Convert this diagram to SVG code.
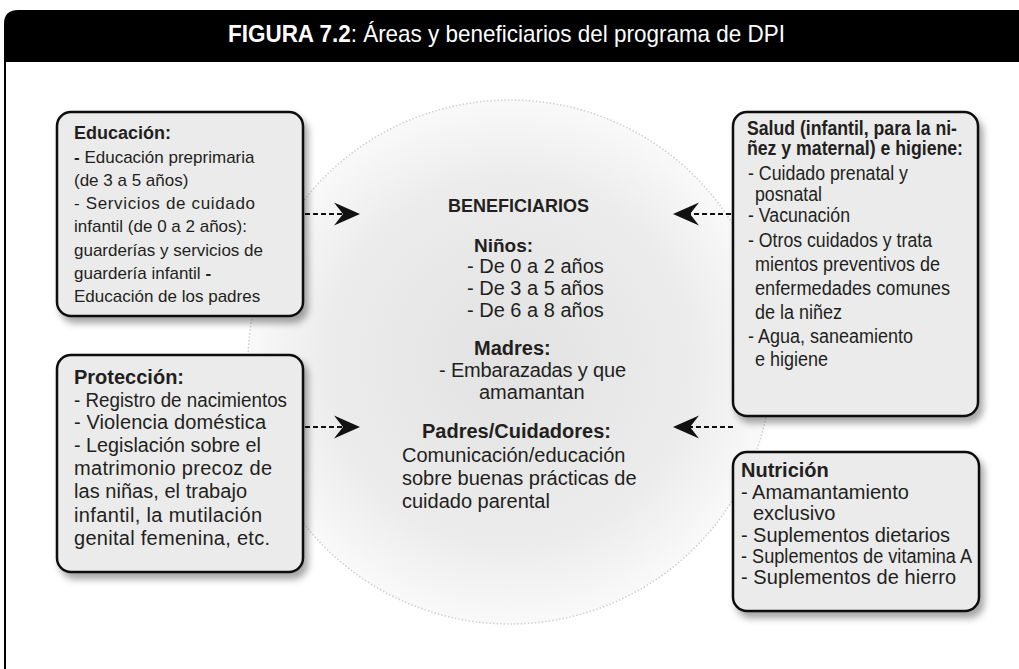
<svg xmlns="http://www.w3.org/2000/svg" width="1019" height="669" viewBox="0 0 1019 669">
<defs>
<style>
.t{font-family:"Liberation Sans",Arial,sans-serif;fill:#231f20}
.b{font-weight:bold}
.box{fill:#ebebeb;stroke:#111;stroke-width:2.5;filter:url(#sh)}
.dash{stroke:#111;stroke-width:2.2;stroke-dasharray:5 3;fill:none}
</style>
<filter id="sh" x="-10%" y="-10%" width="130%" height="130%">
<feDropShadow dx="4" dy="6" stdDeviation="3.5" flood-color="#000" flood-opacity="0.35"/>
</filter>
<radialGradient id="cg" cx="0.5" cy="0.5" r="0.5">
<stop offset="0" stop-color="#e2e2e2"/>
<stop offset="0.7" stop-color="#ececec"/>
<stop offset="1" stop-color="#f9f9f9"/>
</radialGradient>
<marker id="ah" markerUnits="userSpaceOnUse" markerWidth="30" markerHeight="30" viewBox="-12 -13 30 26" refX="0" refY="0" orient="auto">
<path d="M16,0 L-10,-11.5 L-1,0 L-10,11.5 Z" fill="#111"/>
</marker>
</defs>
<rect width="1019" height="669" fill="#fff"/>
<path d="M4,62 V24 Q4,10 18,10 H1019 V62 Z" fill="#000"/>
<line x1="5" y1="62" x2="5" y2="669" stroke="#000" stroke-width="2"/>
<text class="t" x="228" y="42" font-size="24" fill="#fff" style="fill:#fff" textLength="557" lengthAdjust="spacingAndGlyphs"><tspan class="b">FIGURA 7.2</tspan>: Áreas y beneficiarios del programa de DPI</text>

<g id="circle">
<circle cx="510" cy="362" r="262" fill="url(#cg)" stroke="#cfcfcf" stroke-width="1.5" stroke-dasharray="1.5 2"/>
</g>

<g id="connectors">
<line class="dash" x1="305" y1="214" x2="344" y2="214" marker-end="url(#ah)"/>
<line class="dash" x1="305" y1="427" x2="344" y2="427" marker-end="url(#ah)"/>
<line class="dash" x1="731" y1="214" x2="689" y2="214" marker-end="url(#ah)"/>
<line class="dash" x1="733" y1="427" x2="689" y2="427" marker-end="url(#ah)"/>
</g>

<g id="center">
<text class="t b" x="448" y="212" font-size="18" textLength="141" lengthAdjust="spacingAndGlyphs">BENEFICIARIOS</text>
<text class="t b" x="474" y="252" font-size="19">Niños:</text>
<text class="t" x="467" y="273" font-size="20">- De 0 a 2 años</text>
<text class="t" x="467" y="295" font-size="20">- De 3 a 5 años</text>
<text class="t" x="467" y="317" font-size="20">- De 6 a 8 años</text>
<text class="t b" x="474" y="355" font-size="20">Madres:</text>
<text class="t" x="439" y="377" font-size="20" textLength="187">- Embarazadas y que</text>
<text class="t" x="479" y="399" font-size="20">amamantan</text>
<text class="t b" x="422" y="438" font-size="20">Padres/Cuidadores:</text>
<text class="t" x="402" y="462" font-size="20">Comunicación/educación</text>
<text class="t" x="402" y="485" font-size="20">sobre buenas prácticas de</text>
<text class="t" x="402" y="508" font-size="20">cuidado parental</text>
</g>

<g id="educacion">
<rect class="box" x="57" y="112" width="246" height="204" rx="14"/>
<text class="t b" x="74" y="139" font-size="18">Educación:</text>
<text class="t" x="74" y="163" font-size="17"><tspan class="b">-</tspan> Educación preprimaria</text>
<text class="t" x="74" y="186" font-size="17">(de 3 a 5 años)</text>
<text class="t" x="74" y="209" font-size="17" textLength="181">-  Servicios de cuidado</text>
<text class="t" x="74" y="232" font-size="17">infantil (de 0 a 2 años):</text>
<text class="t" x="74" y="256" font-size="17">guarderías y servicios de</text>
<text class="t" x="74" y="279" font-size="17">guardería infantil <tspan class="b">-</tspan></text>
<text class="t" x="74" y="302" font-size="17">Educación de los padres</text>
</g>

<g id="proteccion">
<rect class="box" x="57" y="355" width="246" height="217" rx="14"/>
<text class="t b" x="74" y="384" font-size="20">Protección:</text>
<text class="t" x="74" y="407" font-size="20" textLength="213" lengthAdjust="spacingAndGlyphs">- Registro de nacimientos</text>
<text class="t" x="74" y="429" font-size="20" textLength="192">- Violencia doméstica</text>
<text class="t" x="74" y="452" font-size="20" textLength="187" lengthAdjust="spacingAndGlyphs">- Legislación sobre el</text>
<text class="t" x="74" y="475" font-size="20" textLength="198">matrimonio precoz de</text>
<text class="t" x="74" y="498" font-size="20" textLength="173">las niñas, el trabajo</text>
<text class="t" x="74" y="522" font-size="20" textLength="188">infantil, la mutilación</text>
<text class="t" x="74" y="545" font-size="20" textLength="196">genital femenina, etc.</text>
</g>

<g id="salud">
<rect class="box" x="733" y="112" width="245" height="304" rx="14"/>
<text class="t b" x="747" y="135" font-size="20" textLength="210" lengthAdjust="spacingAndGlyphs">Salud (infantil, para la ni-</text>
<text class="t b" x="747" y="155" font-size="20" textLength="216" lengthAdjust="spacingAndGlyphs">ñez y maternal) e higiene:</text>
<text class="t" x="748" y="180" font-size="20" textLength="160" lengthAdjust="spacingAndGlyphs">- Cuidado prenatal y</text>
<text class="t" x="755" y="201" font-size="20" textLength="67" lengthAdjust="spacingAndGlyphs">posnatal</text>
<text class="t" x="748" y="222" font-size="20" textLength="102" lengthAdjust="spacingAndGlyphs">- Vacunación</text>
<text class="t" x="748" y="247" font-size="20" textLength="184" lengthAdjust="spacingAndGlyphs">- Otros cuidados y trata</text>
<text class="t" x="755" y="271" font-size="20" textLength="185" lengthAdjust="spacingAndGlyphs">mientos preventivos de</text>
<text class="t" x="755" y="295" font-size="20" textLength="195" lengthAdjust="spacingAndGlyphs">enfermedades comunes</text>
<text class="t" x="755" y="319" font-size="20" textLength="87" lengthAdjust="spacingAndGlyphs">de la niñez</text>
<text class="t" x="748" y="343" font-size="20" textLength="165" lengthAdjust="spacingAndGlyphs">- Agua, saneamiento</text>
<text class="t" x="755" y="366" font-size="20" textLength="73" lengthAdjust="spacingAndGlyphs">e higiene</text>
</g>

<g id="nutricion">
<rect class="box" x="733" y="452" width="246" height="159" rx="14"/>
<text class="t b" x="741" y="477" font-size="20">Nutrición</text>
<text class="t" x="741" y="499" font-size="20">- Amamantamiento</text>
<text class="t" x="753" y="520" font-size="20">exclusivo</text>
<text class="t" x="741" y="542" font-size="20" textLength="209">- Suplementos dietarios</text>
<text class="t" x="741" y="563" font-size="20" textLength="231" lengthAdjust="spacingAndGlyphs">- Suplementos de vitamina A</text>
<text class="t" x="741" y="584" font-size="20" textLength="215">- Suplementos de hierro</text>
</g>
</svg>
